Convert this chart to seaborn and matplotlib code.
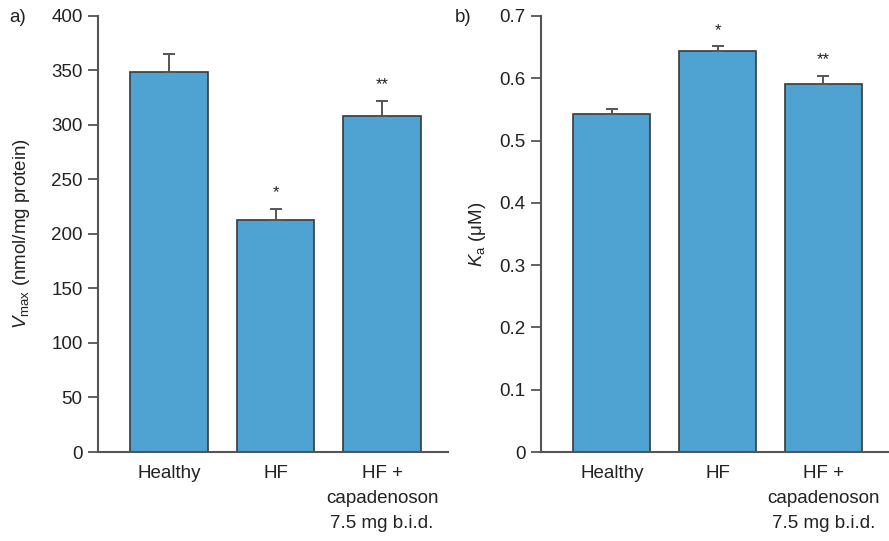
import matplotlib
matplotlib.use("Agg")
import matplotlib.pyplot as plt
import seaborn as sns
import pandas as pd

groups = ["Healthy", "HF", "HF +\ncapadenoson\n7.5 mg b.i.d."]
vmax = [349, 213, 308]
vmax_err = [16, 10, 14]
vmax_sig = ["", "*", "**"]
ka = [0.542, 0.643, 0.590]
ka_err = [0.009, 0.008, 0.014]
ka_sig = ["", "*", "**"]

sns.set_style("ticks")
plt.rcParams["font.family"] = ["Liberation Sans", "DejaVu Sans"]
plt.rcParams["mathtext.fontset"] = "custom"
plt.rcParams["mathtext.rm"] = "Liberation Sans"
plt.rcParams["mathtext.it"] = "Liberation Sans:italic"

bar_color = "#4EA3D2"
edge = "#3a3a3a"
grey = "#555555"

fig = plt.figure(figsize=(8.89, 5.41), dpi=100)
ax1 = fig.add_axes([0.110, 0.1645, 0.394, 0.806])
ax2 = fig.add_axes([0.6085, 0.1645, 0.3915, 0.806])


def panel(ax, vals, errs, sig, ylim, ticks, ylabel, fmt):
    df = pd.DataFrame({"group": groups, "val": vals})
    sns.barplot(data=df, x="group", y="val", color=bar_color, width=0.73,
                edgecolor=edge, linewidth=1.2, saturation=1, ax=ax)
    ax.errorbar(range(len(vals)), vals, yerr=[[0] * len(errs), errs], fmt="none",
                ecolor=grey, elinewidth=1.4, capsize=4.5, capthick=1.4)
    step = ylim[1] * 0.02
    for i, (v, e, s) in enumerate(zip(vals, errs, sig)):
        if s:
            ax.text(i, v + e + step, s, ha="center", va="bottom", fontsize=12, color="#222222")
    ax.set_xlim(-0.67, 2.62)
    ax.set_ylim(*ylim)
    ax.set_yticks(ticks)
    ax.set_yticklabels([fmt(t) for t in ticks])
    ax.set_xlabel("")
    ax.set_ylabel(ylabel, fontsize=13.5, color="#222222")
    for sp in ["top", "right"]:
        ax.spines[sp].set_visible(False)
    for sp in ["left", "bottom"]:
        ax.spines[sp].set_color(grey)
        ax.spines[sp].set_linewidth(1.5)
    ax.tick_params(axis="y", length=7, width=1.3, color=grey, labelsize=13.5,
                   labelcolor="#222222", pad=4)
    ax.tick_params(axis="x", length=0, labelsize=13.5, labelcolor="#222222", pad=9)
    for lbl in ax.get_xticklabels():
        lbl.set_verticalalignment("top")
        lbl.set_multialignment("center")
        lbl.set_linespacing(1.65)


panel(ax1, vmax, vmax_err, vmax_sig, (0, 400), list(range(0, 401, 50)),
      r"$V_{\mathrm{max}}$ (nmol/mg protein)", lambda t: f"{t:d}")
panel(ax2, ka, ka_err, ka_sig, (0, 0.7), [0, 0.1, 0.2, 0.3, 0.4, 0.5, 0.6, 0.7],
      r"$K_{\mathrm{a}}$ ($\mathrm{\mu}$M)", lambda t: "0" if t == 0 else f"{t:.1f}")
ax1.yaxis.labelpad = 14
ax2.yaxis.labelpad = 8

fig.text(0.010, 0.968, "a)", fontsize=13.5, va="center", color="#222222")
fig.text(0.512, 0.968, "b)", fontsize=13.5, va="center", color="#222222")

fig.savefig("out.png", dpi=100)
